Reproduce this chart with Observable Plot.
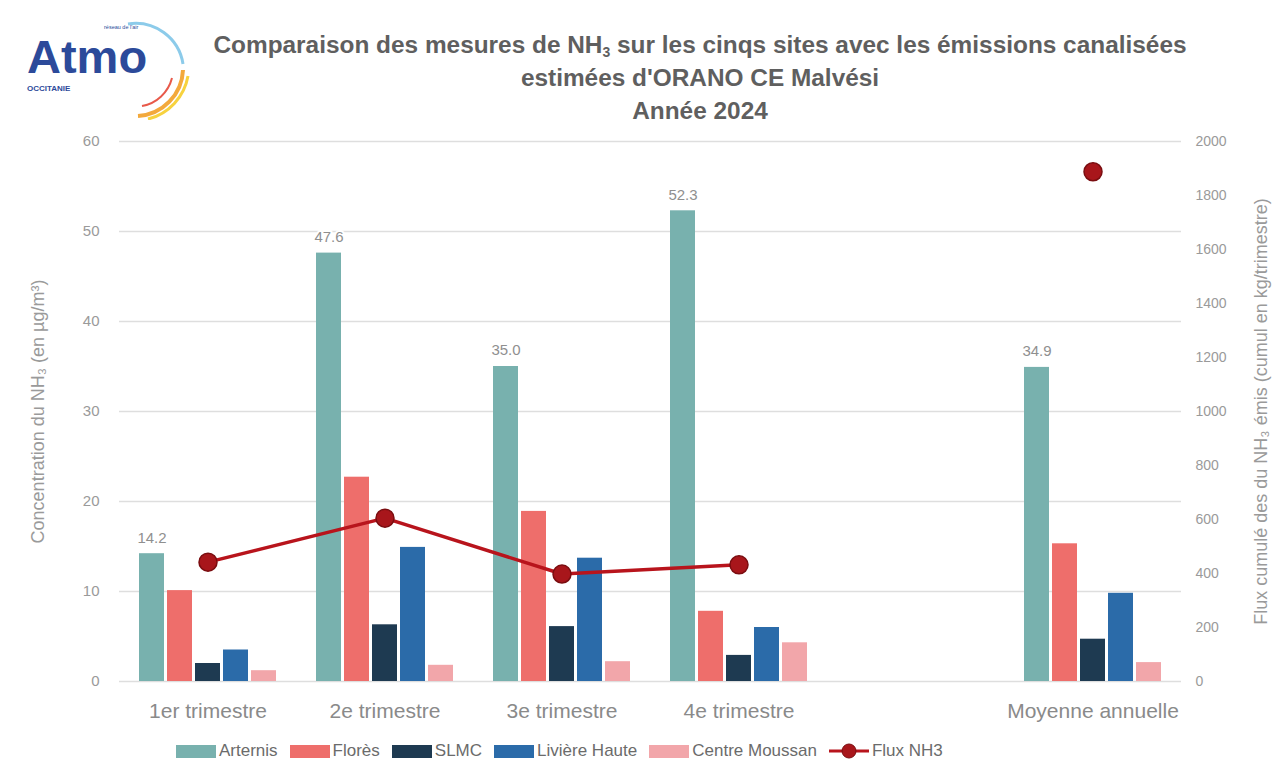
<!DOCTYPE html>
<html><head><meta charset="utf-8">
<script src="https://cdn.jsdelivr.net/npm/d3@7"></script>
<script src="https://cdn.jsdelivr.net/npm/@observablehq/plot@0.6"></script>
<style>
body{margin:0;background:#fff;font-family:"Liberation Sans",Arial,sans-serif;}
#wrap{position:relative;width:1277px;height:764px;overflow:hidden;background:#fff}
#title{position:absolute;left:150px;width:1100px;top:28px;text-align:center;font-weight:bold;font-size:24.4px;line-height:33px;color:#5f5f5f}
#title sub{font-size:14px;line-height:0;vertical-align:-4px}
#bars,#over{position:absolute;left:0;top:120px}
#legend{position:absolute;left:170px;top:741px;display:flex;justify-content:flex-start;font-size:17px;color:#6b6b6b}
.it{display:flex;align-items:center;margin:0 6px}
.sw{width:40px;height:13px;margin-right:3px}
#logo{position:absolute;left:20px;top:20px}
</style></head>
<body><div id="wrap">
<svg id="logo" width="175" height="100" viewBox="0 0 175 100">
  <path d="M108,4 A48,48 0 0 1 163,44" fill="none" stroke="#8ccbea" stroke-width="3"/>
  <path d="M163,50 A48,48 0 0 1 118,96" fill="none" stroke="#f3a93c" stroke-width="4"/>
  <path d="M168,56 A54,54 0 0 1 128,99" fill="none" stroke="#f7d23e" stroke-width="3"/>
  <path d="M152,58 A38,38 0 0 1 122,86" fill="none" stroke="#e8594a" stroke-width="2"/>
  <text x="7" y="53" font-family="Liberation Sans, Arial" font-weight="bold" font-size="47" fill="#2c4a9a">Atmo</text>
  <text x="84" y="9" font-family="Liberation Sans, Arial" font-size="5.5" fill="#2c4a9a">réseau de l'air</text>
  <text x="7" y="71" font-family="Liberation Sans, Arial" font-weight="bold" font-size="8" fill="#2c4a9a">OCCITANIE</text>
</svg>
<div id="title">Comparaison des mesures de NH<sub>3</sub> sur les cinqs sites avec les émissions canalisées<br>estimées d'ORANO CE Malvési<br>Année 2024</div>
<div id="bars"></div>
<div id="over"></div>
<div id="legend"></div>
</div>
<script>
// ---- data ----
const periods = ["1er trimestre","2e trimestre","3e trimestre","4e trimestre","Moyenne annuelle"];
const gapKey = "_gap";
const sites = ["Arternis","Florès","SLMC","Livière Haute","Centre Moussan"];
const siteColors = ["#78b1ae","#ee6e6b","#1e3a51","#2b6ba9","#f2a6aa"];
const arternis = [14.2,47.6,35.0,52.3,34.9];
const flores = [10.1,22.7,18.9,7.8,15.3];
const slmc = [2.0,6.3,6.1,2.9,4.7];
const liviere = [3.5,14.9,13.7,6.0,9.8];
const moussan = [1.2,1.8,2.2,4.3,2.1];
const fluxNH3 = [442,605,398,432,1888];
const leftTicks = [0,10,20,30,40,50,60];
const rightTicks = [0,200,400,600,800,1000,1200,1400,1600,1800,2000];

const fxDomain = [periods[0],periods[1],periods[2],periods[3],gapKey,periods[4]];
const series = [arternis, flores, slmc, liviere, moussan];
const rows = [];
periods.forEach((p,i)=>sites.forEach((s,j)=>rows.push({period:p, site:s, value:series[j][i]})));
const fluxRows = periods.map((p,i)=>({period:p, value:fluxNH3[i]}));
const gridRows = [];
fxDomain.forEach(p=>leftTicks.forEach(t=>gridRows.push({period:p, tick:t})));

const W=1277, H=610, mT=21, mB=49, mL=117, mR=95;
const tickColor="#9a9a9a";

const bars = Plot.plot({
  width:W, height:H, marginTop:mT, marginBottom:mB, marginLeft:mL, marginRight:mR,
  style:{fontFamily:"Liberation Sans, Arial, sans-serif", fontSize:"15px", color:tickColor, background:"transparent"},
  fx:{domain:fxDomain, padding:0},
  x:{domain:sites, paddingInner:0.1, paddingOuter:0.65, axis:null},
  y:{domain:[0,60]},
  color:{domain:sites, range:siteColors},
  marks:[
    Plot.ruleY(gridRows,{fx:"period", y:"tick", stroke:"#dedede", strokeWidth:1.5}),
    Plot.axisY({ticks:leftTicks, tickSize:0, tickPadding:20, fill:tickColor, fontSize:15,
      label:"Concentration du NH₃ (en µg/m³)", labelAnchor:"center", labelArrow:"none", labelOffset:88}),
    Plot.axisFx({anchor:"bottom", tickSize:0, tickPadding:22, fontSize:21, fill:"#8a8a8a",
      tickFormat:d=>d===gapKey?"":d, label:null}),
    Plot.barY(rows,{fx:"period", x:"site", y:"value", fill:"site"}),
    Plot.text(rows.filter(d=>d.site===sites[0]),{fx:"period", x:"site", y:"value", text:d=>d.value.toFixed(1),
      dy:-16, fill:"#8f8f8f", fontSize:15, stroke:"white", strokeWidth:4})
  ]
});
document.getElementById("bars").appendChild(bars);

const over = Plot.plot({
  width:W, height:H, marginTop:mT, marginBottom:mB, marginLeft:mL, marginRight:mR,
  style:{fontFamily:"Liberation Sans, Arial, sans-serif", fontSize:"14px", color:tickColor, background:"transparent"},
  x:{type:"band", domain:fxDomain, padding:0, axis:null},
  y:{domain:[0,2000]},
  marks:[
    Plot.axisY({anchor:"right", ticks:rightTicks, tickSize:0, tickPadding:13, fill:tickColor, fontSize:14,
      tickFormat:d3.format("d"),
      label:"Flux cumulé des du NH₃ émis (cumul en kg/trimestre)", labelAnchor:"center", labelArrow:"none", labelOffset:84}),
    Plot.line(fluxRows.slice(0,4),{x:"period", y:"value", stroke:"#b8141c", strokeWidth:3.5}),
    Plot.dot(fluxRows,{x:"period", y:"value", r:9, fill:"#a8161b", stroke:"#7a0d10", strokeWidth:1.5})
  ]
});
document.getElementById("over").appendChild(over);
over.querySelectorAll("text").forEach(t=>{ if(t.textContent.startsWith("Flux")) t.setAttribute("font-size","18"); });
bars.querySelectorAll("text").forEach(t=>{ if(t.textContent.startsWith("Concentration")) t.setAttribute("font-size","18"); });

// legend
const leg = document.getElementById("legend");
sites.forEach((s,i)=>{
  const it=document.createElement("div"); it.className="it";
  it.innerHTML=`<div class="sw" style="background:${siteColors[i]}"></div><span>${s}</span>`;
  leg.appendChild(it);
});
const fl=document.createElement("div"); fl.className="it";
fl.innerHTML=`<svg width="40" height="18" style="margin-right:3px"><line x1="0" y1="9" x2="40" y2="9" stroke="#b8141c" stroke-width="3"/><circle cx="20" cy="9" r="7" fill="#a8161b" stroke="#7a0d10" stroke-width="1"/></svg><span>Flux NH3</span>`;
leg.appendChild(fl);
</script>
</body></html>
